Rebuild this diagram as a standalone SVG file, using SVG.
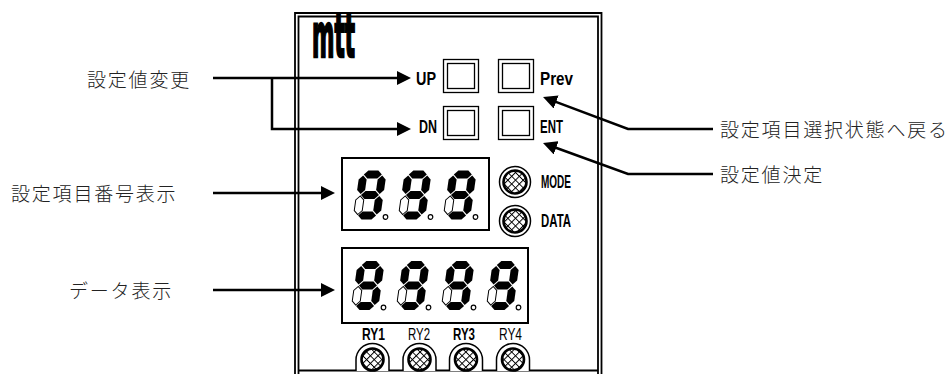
<svg xmlns="http://www.w3.org/2000/svg" xmlns:xlink="http://www.w3.org/1999/xlink" width="952" height="374" viewBox="0 0 952 374">
<style>
.jp{font-family:"Noto Sans CJK JP","Noto Sans CJK SC",sans-serif;font-size:19px;letter-spacing:1.8px;fill:#222;font-weight:300}
.lbl{font-family:"Liberation Sans",Arial,sans-serif;font-weight:bold;font-size:18px;fill:#000}
.ry{font-family:"Liberation Sans",Arial,sans-serif;font-size:16.5px;fill:#000}
.b{font-weight:bold}
.frame{fill:none;stroke:#000;stroke-width:1.8}
.sq{fill:#fff;stroke:#000;stroke-width:1.3}
.disp{fill:#fff;stroke:#000;stroke-width:2}
.conn{fill:none;stroke:#000;stroke-width:2.5}
.seg{fill:#000}
.off{fill:#fff;stroke:#000;stroke-width:1}
.dot{fill:#fff;stroke:#000;stroke-width:1.2}
.ring{fill:#fff;stroke:#000;stroke-width:1.5}
.knob{fill:url(#hatch);stroke:#000;stroke-width:2.6}
</style>
<defs>
<marker id="ah" viewBox="0 0 14 14" refX="1" refY="7" markerWidth="14" markerHeight="14" markerUnits="userSpaceOnUse" orient="auto">
<path d="M0,0 L14,7 L0,14 z" fill="#000"/>
</marker>
<pattern id="hatch" patternUnits="userSpaceOnUse" width="5.4" height="5.4" patternTransform="rotate(45)">
<rect width="5.4" height="5.4" fill="#fff"/>
<path d="M0,0 H5.4 M0,0 V5.4" stroke="#000" stroke-width="2"/>
</pattern>
<g id="digit">
<g transform="skewX(-8)">
<polygon class="seg" points="4.5,-45 8.5,-49 18.5,-49 22.5,-45 18.5,-41 8.5,-41"/>
<polygon class="seg" points="4,-44 8,-40 8,-29.5 4,-25.5 0,-29.5 0,-40"/>
<polygon class="seg" points="23,-44 27,-40 27,-29.5 23,-25.5 19,-29.5 19,-40"/>
<polygon class="seg" points="4.5,-24.5 8.5,-28.5 18.5,-28.5 22.5,-24.5 18.5,-20.5 8.5,-20.5"/>
<polygon class="off" points="4,-23.5 8,-19.5 8,-9 4,-5 0,-9 0,-19.5"/>
<polygon class="seg" points="23,-23.5 27,-19.5 27,-9 23,-5 19,-9 19,-19.5"/>
<polygon class="seg" points="4.5,-4 8.5,-8 18.5,-8 22.5,-4 18.5,0 8.5,0"/>
</g>
<circle class="dot" cx="32.5" cy="-2.5" r="2.3"/>
</g>
</defs>

<g id="panel">
<path class="frame" d="M295,374 V13 H601.5 V374"/>
<path class="frame" d="M298.5,374 V16.5 H598 V374"/>
<path class="frame" d="M298.5,370.5 H598"/>
</g>

<g id="logo">
<text x="312" y="57" font-family="DejaVu Sans" font-weight="bold" font-size="46" textLength="43" lengthAdjust="spacingAndGlyphs" transform="translate(0,-17.1) scale(1,1.3)" fill="#000" stroke="#000" stroke-width="2">mtt</text>
</g>

<g id="btn-up">
<rect class="sq" x="443.5" y="59.5" width="35" height="33"/>
<rect class="sq" x="447.5" y="63.5" width="27" height="25"/>
<text class="lbl" x="416" y="85" textLength="20" lengthAdjust="spacingAndGlyphs">UP</text>
</g>
<g id="btn-prev">
<rect class="sq" x="498.5" y="59.5" width="35" height="33"/>
<rect class="sq" x="502.5" y="63.5" width="27" height="25"/>
<text class="lbl" x="540" y="85" textLength="33" lengthAdjust="spacingAndGlyphs">Prev</text>
</g>
<g id="btn-dn">
<rect class="sq" x="443.5" y="106.5" width="35" height="33"/>
<rect class="sq" x="447.5" y="110.5" width="27" height="25"/>
<text class="lbl" x="419" y="133" textLength="18" lengthAdjust="spacingAndGlyphs">DN</text>
</g>
<g id="btn-ent">
<rect class="sq" x="498.5" y="106.5" width="35" height="33"/>
<rect class="sq" x="502.5" y="110.5" width="27" height="25"/>
<text class="lbl" x="540" y="133" textLength="23" lengthAdjust="spacingAndGlyphs">ENT</text>
</g>

<g id="display-item">
<rect class="disp" x="342" y="158" width="147" height="72"/>
<use xlink:href="#digit" x="353" y="219.5"/>
<use xlink:href="#digit" x="398" y="219.5"/>
<use xlink:href="#digit" x="443" y="219.5"/>
</g>

<g id="display-data">
<rect class="disp" x="342" y="248" width="186" height="75"/>
<use xlink:href="#digit" x="351" y="310"/>
<use xlink:href="#digit" x="396" y="310"/>
<use xlink:href="#digit" x="441" y="310"/>
<use xlink:href="#digit" x="486" y="310"/>
</g>

<g id="btn-mode">
<circle class="ring" cx="515" cy="182" r="15.5"/>
<circle class="knob" cx="515" cy="182" r="11.5"/>
<text class="lbl" x="541" y="188" textLength="30" lengthAdjust="spacingAndGlyphs">MODE</text>
</g>
<g id="btn-data">
<circle class="ring" cx="515" cy="221" r="15.5"/>
<circle class="knob" cx="515" cy="221" r="11.5"/>
<text class="lbl" x="541" y="227" textLength="30" lengthAdjust="spacingAndGlyphs">DATA</text>
</g>

<g id="ry1">
<text class="ry b" x="362" y="339.5" textLength="23" lengthAdjust="spacingAndGlyphs">RY1</text>
<path class="ring" d="M356,371 V360 A16.5,16.5 0 0 1 389,360 V371"/>
<circle class="knob" cx="372.5" cy="359.5" r="11"/>
</g>
<g id="ry2">
<text class="ry" x="408" y="339.5" textLength="22" lengthAdjust="spacingAndGlyphs">RY2</text>
<path class="ring" d="M403,371 V360 A16.5,16.5 0 0 1 436,360 V371"/>
<circle class="knob" cx="419.5" cy="359.5" r="11"/>
</g>
<g id="ry3">
<text class="ry b" x="453" y="339.5" textLength="22" lengthAdjust="spacingAndGlyphs">RY3</text>
<path class="ring" d="M449.5,371 V360 A16.5,16.5 0 0 1 482.5,360 V371"/>
<circle class="knob" cx="466" cy="359.5" r="11"/>
</g>
<g id="ry4">
<text class="ry" x="499" y="339.5" textLength="23" lengthAdjust="spacingAndGlyphs">RY4</text>
<path class="ring" d="M496.5,371 V360 A16.5,16.5 0 0 1 529.5,360 V371"/>
<circle class="knob" cx="513" cy="359.5" r="11"/>
</g>

<g id="labels">
<text class="jp" x="87" y="86.5">設定値変更</text>
<text class="jp" x="11" y="201">設定項目番号表示</text>
<text class="jp" x="69" y="298">データ表示</text>
<text class="jp" x="720" y="137">設定項目選択状態へ戻る</text>
<text class="jp" x="720" y="182">設定値決定</text>
</g>

<g id="connectors">
<path class="conn" d="M213,78 H398" marker-end="url(#ah)"/>
<path class="conn" d="M272,78 V129 H398" marker-end="url(#ah)"/>
<path class="conn" d="M213,193 H322" marker-end="url(#ah)"/>
<path class="conn" d="M213,290 H322" marker-end="url(#ah)"/>
<path class="conn" d="M713,129 H628 L555.2,101.6" marker-end="url(#ah)"/>
<path class="conn" d="M713,174 H628 L555.2,147.5" marker-end="url(#ah)"/>
</g>
</svg>
